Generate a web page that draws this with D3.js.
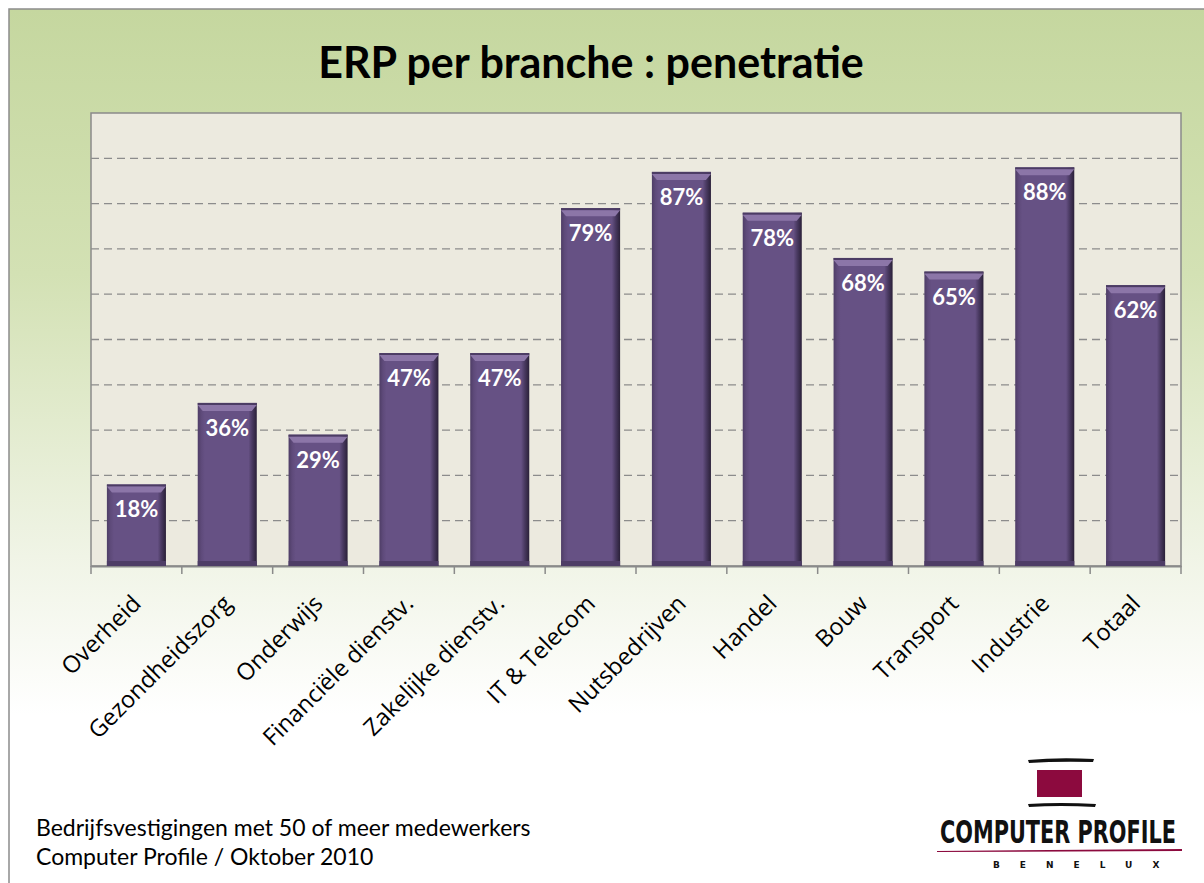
<!DOCTYPE html>
<html>
<head>
<meta charset="utf-8">
<script src="https://cdn.jsdelivr.net/npm/d3@7"></script>
<style>
  body { margin: 0; background: #fff; }
  svg { display: block; }
</style>
</head>
<body>
<svg id="chart"></svg>
<script>
// data
const categories = ["Overheid", "Gezondheidszorg", "Onderwijs", "Financiële dienstv.", "Zakelijke dienstv.",
    "IT & Telecom", "Nutsbedrijven", "Handel", "Bouw", "Transport", "Industrie", "Totaal"];
const values = [18, 36, 29, 47, 47, 79, 87, 78, 68, 65, 88, 62];
const gridTicks = [10, 20, 30, 40, 50, 60, 70, 80, 90, 100];
const titleText = "ERP per branche : penetratie";
const notes = ["Bedrijfsvestigingen met 50 of meer medewerkers", "Computer Profile / Oktober 2010"];

const W = 1204, H = 883;
const plot = {left: 91, right: 1181, top: 113, bottom: 566};

const svg = d3.select("#chart").attr("width", W).attr("height", H);
const defs = svg.append("defs");

// background gradient
const bg = defs.append("linearGradient").attr("id", "bg").attr("x1", 0).attr("y1", 0).attr("x2", 0).attr("y2", 1);
bg.append("stop").attr("offset", "0%").attr("stop-color", "#c5d79f");
bg.append("stop").attr("offset", "30%").attr("stop-color", "#d3e1b4");
bg.append("stop").attr("offset", "62%").attr("stop-color", "#f0f4e6");
bg.append("stop").attr("offset", "80%").attr("stop-color", "#ffffff");
bg.append("stop").attr("offset", "100%").attr("stop-color", "#ffffff");

// bar body gradient (horizontal bevel)
const bar = defs.append("linearGradient").attr("id", "barg").attr("x1", 0).attr("y1", 0).attr("x2", 1).attr("y2", 0);
bar.append("stop").attr("offset", "0%").attr("stop-color", "#4e3d66");
bar.append("stop").attr("offset", "6%").attr("stop-color", "#5e4a7a");
bar.append("stop").attr("offset", "12%").attr("stop-color", "#665184");
bar.append("stop").attr("offset", "86%").attr("stop-color", "#665184");
bar.append("stop").attr("offset", "92%").attr("stop-color", "#4a3a62");
bar.append("stop").attr("offset", "100%").attr("stop-color", "#2a2038");

svg.append("rect").attr("x", 9).attr("y", 9).attr("width", W).attr("height", H)
    .attr("fill", "url(#bg)").attr("stroke", "#8c8c8c").attr("stroke-width", 1.5);

// title
svg.append("text")
    .attr("x", 591).attr("y", 78)
    .attr("text-anchor", "middle")
    .attr("font-family", "Lato, 'Open Sans', sans-serif")
    .attr("font-weight", "bold")
    .attr("font-size", 43)
    .attr("fill", "#000")
    .text(titleText);

// scales
const x = d3.scaleBand().domain(categories).range([plot.left, plot.right]).paddingInner(0.35).paddingOuter(0.175);
const xTicks = d3.scaleBand().domain(categories).range([plot.left, plot.right]);
const y = d3.scaleLinear().domain([0, 100]).range([plot.bottom, plot.top]);

const chart = svg.append("g");

chart.append("rect")
    .attr("x", plot.left).attr("y", plot.top)
    .attr("width", plot.right - plot.left).attr("height", plot.bottom - plot.top)
    .attr("fill", "#eceadf").attr("stroke", "#8a8a8a").attr("stroke-width", 1.5);

// gridlines
chart.append("g").selectAll("line").data(gridTicks.filter(d => d < 100)).join("line")
    .attr("x1", plot.left).attr("x2", plot.right)
    .attr("y1", d => y(d)).attr("y2", d => y(d))
    .attr("stroke", "#8c8c8c").attr("stroke-width", 1.3)
    .attr("stroke-dasharray", "8,5");

// x axis
const xAxis = d3.axisBottom(xTicks).tickSize(0).tickFormat("");
const xg = chart.append("g").attr("transform", `translate(0,${plot.bottom})`).call(xAxis);
xg.select(".domain").attr("stroke", "#8a8a8a").attr("stroke-width", 2);
xg.selectAll(".tickmark").data(d3.range(categories.length + 1)).join("line")
    .attr("class", "tickmark")
    .attr("x1", i => plot.left + i * xTicks.step()).attr("x2", i => plot.left + i * xTicks.step())
    .attr("y1", 0).attr("y2", 8)
    .attr("stroke", "#8a8a8a").attr("stroke-width", 1.5);

// bars
const bars = chart.append("g").selectAll("g").data(values).join("g")
    .attr("transform", (d, i) => `translate(${x(categories[i])},0)`);

bars.append("rect")
    .attr("x", 0).attr("y", d => y(d))
    .attr("width", x.bandwidth()).attr("height", d => plot.bottom - y(d))
    .attr("fill", "url(#barg)");
bars.append("rect")
    .attr("x", 0).attr("y", d => y(d))
    .attr("width", x.bandwidth()).attr("height", 2)
    .attr("fill", "#4c3c64");
bars.append("path")
    .attr("d", d => {
        const t = y(d) + 2, w = x.bandwidth();
        return `M0,${t}L${w},${t}L${w - 5},${t + 6}L5,${t + 6}Z`;
    })
    .attr("fill", "#8c76a8");
bars.append("rect")
    .attr("x", 0).attr("y", plot.bottom - 5)
    .attr("width", x.bandwidth()).attr("height", 5)
    .attr("fill", "#4e3d66");

bars.append("text")
    .attr("x", x.bandwidth() / 2)
    .attr("y", d => y(d) + 33)
    .attr("text-anchor", "middle")
    .attr("font-family", "Lato, 'Open Sans', sans-serif")
    .attr("font-weight", "bold")
    .attr("font-size", 22)
    .attr("fill", "#fff")
    .text(d => d + "%");

// category labels
chart.append("g").selectAll("text").data(categories).join("text")
    .attr("transform", d => `translate(${xTicks(d) + xTicks.bandwidth() / 2 + 6},${plot.bottom + 39}) rotate(-45)`)
    .attr("text-anchor", "end")
    .attr("font-family", "'Open Sans', 'DejaVu Sans', sans-serif")
    .attr("font-size", 23.5)
    .attr("fill", "#000")
    .text(d => d);

// footnotes
svg.append("g").selectAll("text").data(notes).join("text")
    .attr("x", 36).attr("y", (d, i) => 836 + i * 29)
    .attr("font-family", "Lato, 'Open Sans', sans-serif")
    .attr("font-size", 23)
    .attr("fill", "#000")
    .text(d => d);

// logo
const logo = svg.append("g");
logo.append("path").attr("d", "M1028,760 Q1058,757 1094,759 L1093,762 Q1058,761 1029,763 Z").attr("fill", "#111");
logo.append("rect").attr("x", 1037).attr("y", 770).attr("width", 45).attr("height", 27).attr("fill", "#8c0a3e");
logo.append("path").attr("d", "M1028,804 Q1060,802 1096,804 L1095,807 Q1060,805 1029,807 Z").attr("fill", "#111");
const logoText = logo.append("text")
    .attr("transform", "translate(1058,843) scale(1,1.35)")
    .attr("text-anchor", "middle")
    .attr("font-family", "'Liberation Sans Narrow', 'DejaVu Sans Condensed', sans-serif")
    .attr("font-weight", "bold")
    .attr("font-size", 27)
    .attr("fill", "#111")
    .text("COMPUTER PROFILE");
// fit the logo word mark to its width by font size
const natural = logoText.node().getComputedTextLength();
logoText.attr("font-size", 27 * 236 / natural);
logo.append("path").attr("d", "M937,851 L1182,849 L1182,851 L937,852 Z").attr("fill", "#8c0a3e");
logo.append("text")
    .attr("x", 993).attr("y", 868)
    .attr("font-family", "'DejaVu Sans', sans-serif")
    .attr("font-weight", "bold")
    .attr("font-size", 9)
    .attr("letter-spacing", 20)
    .attr("fill", "#111")
    .text("BENELUX");
</script>
</body>
</html>
